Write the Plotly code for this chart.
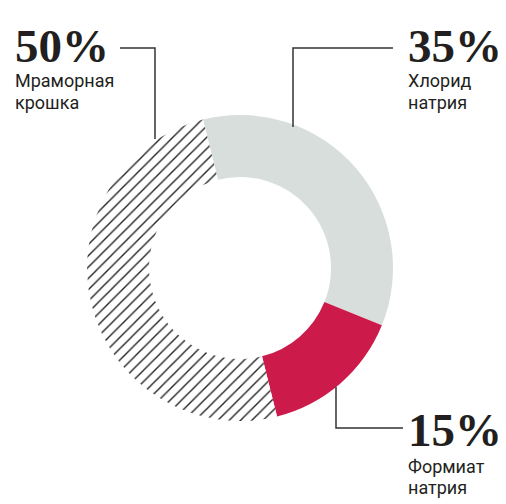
import plotly.graph_objects as go

W, H = 506, 504
OFF = 8  # page body margin offset
FW, FH = W - OFF, H - OFF

labels = ["Хлорид натрия", "Формиат натрия", "Мраморная крошка"]
values = [35, 15, 50]
colors = ["#D8DEDB", "#CC1A4A", "#FFFFFF"]
patterns = ["", "", "/"]
pct_text = ["35%", "15%", "50%"]
name_lines = [["Хлорид", "натрия"], ["Формиат", "натрия"], ["Мраморная", "крошка"]]

cx, cy, R = 240, 268, 153


def px(x):
    return (x - OFF) / FW


def py(y):
    return 1 - (y - OFF) / FH


fig = go.Figure(go.Pie(
    labels=labels, values=values, sort=False, direction="clockwise",
    rotation=-14, hole=0.595, textinfo="none", hoverinfo="skip",
    showlegend=False,
    marker=dict(colors=colors, line=dict(width=0),
                pattern=dict(shape=patterns, fgcolor="#222222", bgcolor="#FFFFFF",
                             size=8, solidity=0.17)),
    domain=dict(x=[px(cx - R), px(cx + R)], y=[py(cy + R), py(cy - R)]),
))

NUM_FONT = dict(family="Liberation Serif, DejaVu Serif, serif", size=47, color="#231F20")
LBL_FONT = dict(family="Roboto, sans-serif", size=18, color="#231F20")

# (index, x-left, y-center of number, y-centers of label lines)
placements = [
    (2, 13, 46, [80.5, 102.5]),
    (0, 406, 46, [80.5, 102.5]),
    (1, 406, 430, [466.5, 487.5]),
]
ann = []
for i, x0, ynum, ylines in placements:
    ann.append(dict(x=px(x0), y=py(ynum), xref="paper", yref="paper", xanchor="left",
                    yanchor="middle", text="<b>" + pct_text[i] + "</b>", showarrow=False,
                    font=NUM_FONT))
    for t, yl in zip(name_lines[i], ylines):
        ann.append(dict(x=px(x0), y=py(yl), xref="paper", yref="paper", xanchor="left",
                        yanchor="middle", text=t, showarrow=False, font=LBL_FONT))

LINE = dict(color="#333333", width=1.5)
paths = [
    [(120, 48), (155, 48), (155, 139)],
    [(393, 48), (293, 48), (293, 127)],
    [(336, 387), (336, 428), (403, 428)],
]
shapes = []
for pts in paths:
    d = "M " + " L ".join(f"{px(x):.5f},{py(y):.5f}" for x, y in pts)
    shapes.append(dict(type="path", path=d, xref="paper", yref="paper", line=LINE))

fig.update_layout(width=FW, height=FH, margin=dict(l=0, r=0, t=0, b=0),
                  paper_bgcolor="white", plot_bgcolor="white",
                  annotations=ann, shapes=shapes)

fig.write_html("out.html")
